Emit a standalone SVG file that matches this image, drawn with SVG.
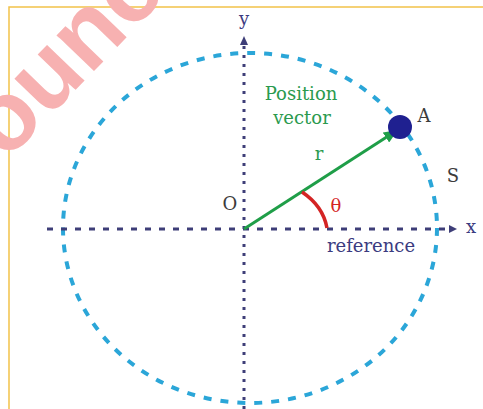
<svg xmlns="http://www.w3.org/2000/svg" width="483" height="409" viewBox="0 0 483 409">
<style>
.t{font-family:"DejaVu Serif","Liberation Serif",serif;font-size:18px}
.g{fill:#2a9a4e}
.n{fill:#3b3b80}
.k{fill:#3c3c3c}
.axis{stroke:#3e3e78;stroke-width:3;fill:none}
</style>
<defs>
<marker id="ah" markerWidth="14" markerHeight="12" refX="12" refY="6" orient="auto" markerUnits="userSpaceOnUse">
<path d="M0,0 L14,6 L0,12 Z" fill="#1f9e48"/>
</marker>
</defs>
<rect width="483" height="409" fill="#fff"/>
<path d="M9,409 V7 H483" fill="none" stroke="#f2c24a" stroke-width="1.5"/>
<text x="6" y="162" transform="rotate(-46 6 162)" font-family="Liberation Sans,Arial,sans-serif" font-weight="bold" font-size="98" fill="#f7b1b1">ounc</text>
<g id="circle-S">
<ellipse cx="250" cy="228" rx="187" ry="175" fill="none" stroke="#2ba6d8" stroke-width="4" stroke-dasharray="8 9"/>
</g>
<g id="axes">
<line class="axis" x1="47" y1="229" x2="447" y2="229" stroke-dasharray="6 8"/>
<path d="M449,225 L457,229 L449,233 Z" fill="#3e3e78"/>
<line class="axis" x1="244" y1="409" x2="244" y2="46" stroke-dasharray="3 6"/>
<path d="M240,45 L244,36 L248,45 Z" fill="#3e3e78"/>
<text class="t n" x="471" y="233" text-anchor="middle">x</text>
<text class="t n" x="244" y="25" text-anchor="middle">y</text>
<text class="t k" x="230" y="210" text-anchor="middle">O</text>
<text class="t n" x="371" y="252" text-anchor="middle">reference</text>
</g>
<g id="connectors">
<line x1="244" y1="229" x2="396" y2="131" stroke="#1f9e48" stroke-width="3" marker-end="url(#ah)"/>
<path d="M302,192 Q323,206 327,228" fill="none" stroke="#d42424" stroke-width="3.5"/>
</g>
<g id="point-A">
<circle cx="400" cy="127" r="12" fill="#1f2090"/>
<text class="t k" x="424" y="122" text-anchor="middle">A</text>
</g>
<g id="labels">
<text class="t g" x="301" y="100" text-anchor="middle">Position</text>
<text class="t g" x="302" y="124" text-anchor="middle">vector</text>
<text class="t g" x="319" y="160" text-anchor="middle">r</text>
<text class="t" x="336" y="212" text-anchor="middle" fill="#d42424">θ</text>
<text class="t k" x="453" y="182" text-anchor="middle">S</text>
</g>
</svg>
